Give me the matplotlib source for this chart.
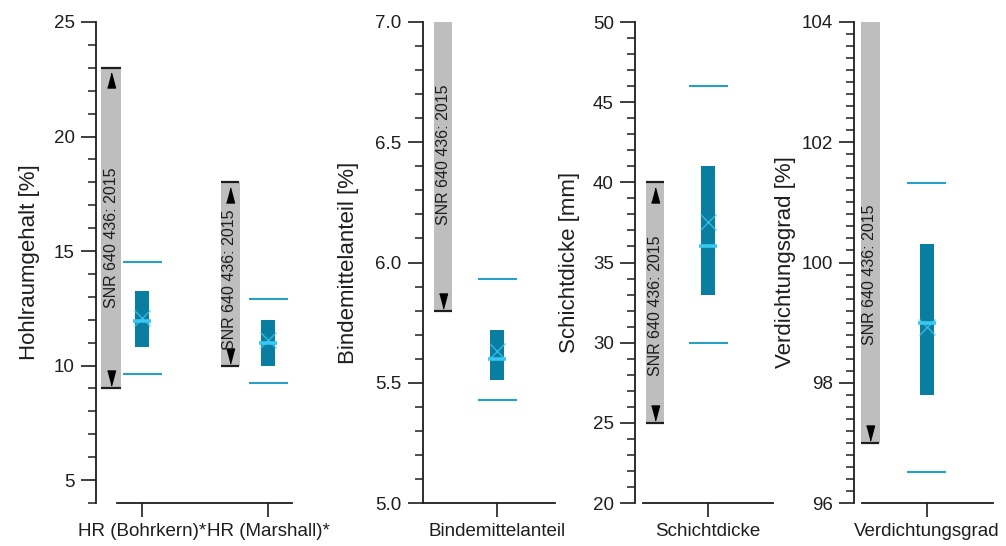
import matplotlib
matplotlib.use("Agg")
import matplotlib.pyplot as plt
from matplotlib.ticker import MultipleLocator, FormatStrFormatter
from matplotlib.transforms import offset_copy

plt.rcParams["font.family"] = ["Liberation Sans", "DejaVu Sans"]

# measured values per property
categories = ["HR (Bohrkern)*", "HR (Marshall)*", "Bindemittelanteil",
              "Schichtdicke", "Verdichtungsgrad"]
q1 = [10.8, 10.0, 5.51, 33.0, 97.8]
q3 = [13.25, 12.0, 5.72, 41.0, 100.3]
median = [11.93, 10.97, 5.60, 36.0, 99.0]
mean = [12.07, 11.1, 5.63, 37.5, 98.92]
whisker_lo = [9.65, 9.26, 5.43, 30.0, 96.52]
whisker_hi = [14.5, 12.92, 5.93, 46.0, 101.32]

# requirement range from the standard
norm_lo = [9.0, 10.0, 5.8, 25.0, 97.0]
norm_hi = [23.0, 18.0, 7.0, 40.0, 104.0]
norm_label = "SNR 640 436: 2015"

# panel setup: y label, y limits, major step, minor step, categories shown
ylabels = ["Hohlraumgehalt [%]", "Bindemittelanteil [%]",
           "Schichtdicke [mm]", "Verdichtungsgrad [%]"]
ylims = [(4, 25), (5.0, 7.0), (20, 50), (96, 104)]
major_steps = [5, 0.5, 5, 2]
minor_steps = [1, 0.1, 1, 0.2]
panel_cats = [[0, 1], [2], [3], [4]]

# layout in pixels of the 1006 x 546 figure
W, H = 1006, 546
TOP, BOTTOM = 22, 503
UNIT = 126.0  # px per category step
axes_px = [(96, 292, 117, 142), (423, 555, 423, 497),
           (635, 773, 643, 708), (854, 993, 862, 927)]
label_center_px = [28, 347, 568, 784]
norm_offset_px = [-31, -38, -54, -53, -57]
norm_width_px = [20, 19, 18, 18, 19]
text_shift_px = [10, 6, -12, 3, 42]

BOX_C = "#0a7ea0"
WHISK_C = "#2a9fc6"
MED_C = "#38c8f2"
GREY = "#bebebe"
INK = "#1e1e1e"

fig = plt.figure(figsize=(W / 100, H / 100), dpi=100)

for p in range(4):
    left, right, spine0, tick0 = axes_px[p]
    ax = fig.add_axes([left / W, 1 - BOTTOM / H, (right - left) / W, (BOTTOM - TOP) / H])
    ax.set_xlim((left - tick0) / UNIT, (right - tick0) / UNIT)
    ax.set_ylim(*ylims[p])

    cats = panel_cats[p]
    for j, c in enumerate(cats):
        x = float(j)
        # norm range bar
        nx = x + norm_offset_px[c] / UNIT
        nw = norm_width_px[c] / UNIT
        ax.bar(nx, norm_hi[c] - norm_lo[c], bottom=norm_lo[c], width=nw,
               color=GREY, zorder=1)
        down = offset_copy(ax.transData, fig=fig, x=0, y=10, units="dots")
        ax.hlines(norm_lo[c], nx - nw / 2, nx + nw / 2, color=INK, lw=1.6, zorder=3)
        ax.plot(nx, norm_lo[c], marker=[(-4, 7.5), (4, 7.5), (0, -7.5)],
                ms=10.8, color="black", transform=down, zorder=3)
        if norm_hi[c] < ylims[p][1]:
            up = offset_copy(ax.transData, fig=fig, x=0, y=-12.5, units="dots")
            ax.hlines(norm_hi[c], nx - nw / 2, nx + nw / 2, color=INK, lw=1.6, zorder=3)
            ax.plot(nx, norm_hi[c], marker=[(-4, -7.5), (4, -7.5), (0, 7.5)],
                    ms=10.8, color="black", transform=up, zorder=3)
        txt = offset_copy(ax.transData, fig=fig, x=0, y=-text_shift_px[c], units="dots")
        ax.text(nx, (norm_lo[c] + norm_hi[c]) / 2, norm_label, rotation=90,
                ha="center", va="center", fontsize=11.5, color=INK,
                transform=txt, zorder=4)

        # box with whiskers, median and mean
        bw = 14.5 / UNIT
        ww = 39 / UNIT
        ax.bar(x, q3[c] - q1[c], bottom=q1[c], width=bw, color=BOX_C, zorder=2)
        ax.hlines([whisker_lo[c], whisker_hi[c]], x - ww / 2, x + ww / 2,
                  color=WHISK_C, lw=1.5, zorder=2)
        ax.hlines(median[c], x - bw / 2 - 2 / UNIT, x + bw / 2 + 2 / UNIT,
                  color=MED_C, lw=2.6, zorder=3)
        ax.plot(x, mean[c], marker="x", ms=11, mew=1.0, color=MED_C,
                alpha=0.8, zorder=4)

    ax.set_xticks(range(len(cats)), [categories[c] for c in cats])
    ax.yaxis.set_major_locator(MultipleLocator(major_steps[p]))
    ax.yaxis.set_minor_locator(MultipleLocator(minor_steps[p]))
    if p == 1:
        ax.yaxis.set_major_formatter(FormatStrFormatter("%.1f"))

    for s in ["top", "right"]:
        ax.spines[s].set_visible(False)
    for s in ["left", "bottom"]:
        ax.spines[s].set_linewidth(1.3)
        ax.spines[s].set_color(INK)
    ax.spines["bottom"].set_bounds((spine0 - tick0) / UNIT, (right - tick0) / UNIT)

    ax.tick_params(axis="both", which="major", length=10.8, width=1.2,
                   color=INK, labelsize=13.5, labelcolor=INK, pad=4.5)
    ax.tick_params(axis="y", which="minor", length=5.8, width=1.1, color=INK)
    ax.tick_params(axis="x", which="major", length=10)

    ax.set_ylabel(ylabels[p], fontsize=16, color=INK)
    ax.yaxis.set_label_coords((label_center_px[p] + 12 - left) / (right - left), 0.5)

fig.savefig("out.png", dpi=100)
